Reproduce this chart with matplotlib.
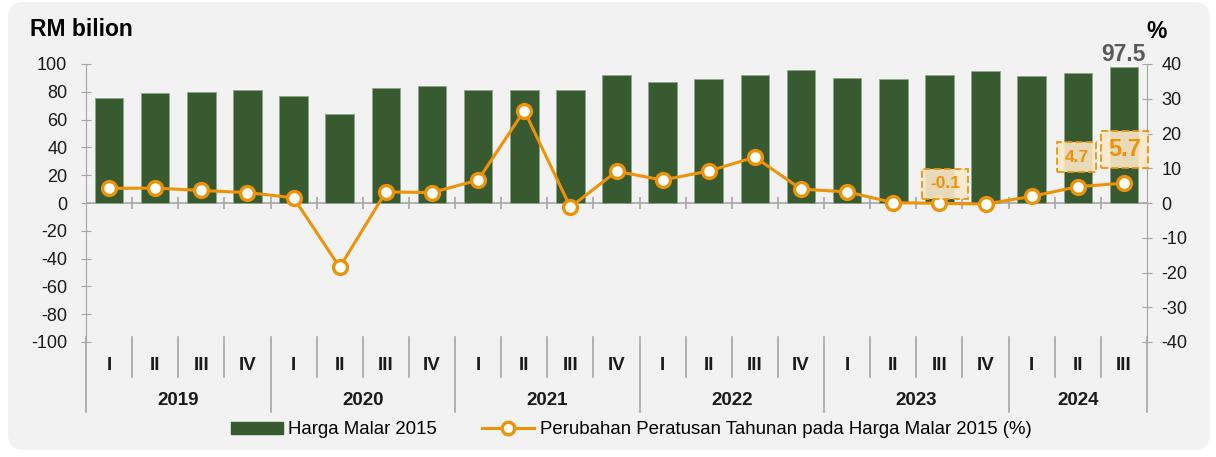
import numpy as np
import matplotlib
matplotlib.use("Agg")
import matplotlib.pyplot as plt
from matplotlib.patches import FancyBboxPatch
from matplotlib.transforms import IdentityTransform

plt.rcParams['font.family'] = ['Liberation Sans', 'DejaVu Sans']
plt.rcParams['axes.unicode_minus'] = False

# data
years = ['2019', '2020', '2021', '2022', '2023', '2024']
quarters = ['I', 'II', 'III', 'IV'] * 5 + ['I', 'II', 'III']
harga_malar = [75.6, 79.1, 80.1, 81.4, 76.8, 64.2, 82.5, 84.1,
               81.5, 81.5, 81.5, 92.0, 87.2, 88.9, 92.4, 95.7,
               90.0, 89.2, 92.3, 95.2, 91.6, 93.6, 97.5]
peratus = [4.2, 4.3, 3.6, 3.0, 1.5, -18.5, 3.2, 3.0,
           6.6, 26.6, -1.2, 9.1, 6.6, 9.2, 13.2, 4.0,
           3.2, 0.1, -0.1, -0.3, 1.9, 4.7, 5.7]

GREEN = '#375a31'
ORANGE = '#ee9308'
GREY = '#a6a6a6'

fig = plt.figure(figsize=(12.16, 4.57), dpi=100)
fig.patch.set_facecolor('white')
bg = FancyBboxPatch((8, 7), 1202, 448, boxstyle='round,pad=0,rounding_size=16',
                    transform=IdentityTransform(), facecolor='#f2f2f2',
                    edgecolor='none', zorder=-10)
fig.patches.append(bg)

ax = fig.add_axes([86/1216, 1 - 342/457, (1147 - 86)/1216, (342 - 64)/457])
ax.set_facecolor('none')
x = np.arange(len(harga_malar))
ax.bar(x, harga_malar, width=0.62, color=GREEN, edgecolor='#8fa58a', linewidth=0.6, zorder=2)
ax.set_xlim(-0.5, len(x) - 0.5)
ax.set_ylim(-100, 100)
ax.set_yticks(np.arange(-100, 101, 20))
ax.set_xticks([])
for s in ['top', 'bottom', 'right']:
    ax.spines[s].set_visible(False)
ax.spines['left'].set_color(GREY)
ax.tick_params(axis='y', direction='inout', length=7, color=GREY, labelsize=13,
               labelcolor='#1a1a1a', pad=10)

# zero line with small ticks
ax.axhline(0, color=GREY, linewidth=1.2, zorder=1)
ax.plot(x[:-1] + 0.5, np.zeros(len(x) - 1), linestyle='none', marker='|',
        markersize=8, color=GREY, markeredgewidth=1.2, zorder=1)

ax2 = ax.twinx()
ax2.set_ylim(-40, 40)
ax2.set_yticks(np.arange(-40, 41, 10))
for s in ['top', 'bottom', 'left']:
    ax2.spines[s].set_visible(False)
ax2.spines['right'].set_color(GREY)
ax2.tick_params(axis='y', direction='inout', length=7, color=GREY, labelsize=13,
                labelcolor='#1a1a1a', pad=7)
ax2.plot(x, peratus, color=ORANGE, linewidth=2.2, marker='o', markersize=10,
         markerfacecolor='white', markeredgecolor=ORANGE, markeredgewidth=2.4, zorder=5)

# category axis under the plot
trans = ax.get_xaxis_transform()
for i in range(len(x) + 1):
    b = i - 0.5
    if i == 0 or i == len(x) or i % 4 == 0:
        ax.plot([b, b], [0.018, -0.252], transform=trans, color=GREY, linewidth=1.2, clip_on=False)
    else:
        ax.plot([b, b], [0.018, -0.126], transform=trans, color=GREY, linewidth=1.2, clip_on=False)
for i, q in enumerate(quarters):
    ax.text(i, -0.083, q, transform=trans, ha='center', va='center',
            fontsize=13.5, fontweight='bold', color='#1a1a1a')
for k, yr in enumerate(years):
    n = min(4, len(x) - 4 * k)
    ax.text(4 * k + (n - 1) / 2, -0.209, yr, transform=trans, ha='center', va='center',
            fontsize=13.5, fontweight='bold', color='#1a1a1a')

# labels
fig.text(30/1216, 1 - 30/457, 'RM bilion', fontsize=16.5, fontweight='bold', va='center', ha='left')
fig.text(1157/1216, 1 - 31/457, '%', fontsize=16.5, fontweight='bold', va='center', ha='center')
ax.text(x[-1], harga_malar[-1] + 1, '97.5', ha='center', va='bottom', fontsize=16.5,
        fontweight='bold', color='#595959')

boxes = [(18, -0.1, 12.5, 0.12, 5.6, 0.45), (21, 4.7, 12.5, -0.03, 8.5, 0.45), (22, 5.7, 17, 0.02, 9.7, 0.3)]
for idx, val, fs, dx, dy, pad in boxes:
    ax2.text(x[idx] + dx, peratus[idx] + dy, f'{val}', ha='center', va='center',
             fontsize=fs, fontweight='bold', color=ORANGE, zorder=6,
             bbox=dict(boxstyle=f'square,pad={pad}', facecolor='#fde8c9', alpha=0.9,
                       edgecolor=ORANGE, linestyle='--', linewidth=1.4))

# legend
h1 = plt.Rectangle((0, 0), 1, 1, color=GREEN)
h2, = ax2.plot([], [], color=ORANGE, linewidth=2.2, marker='o', markersize=9,
               markerfacecolor='white', markeredgecolor=ORANGE, markeredgewidth=2.4)
fig.legend([h1, h2], ['Harga Malar 2015', 'Perubahan Peratusan Tahunan pada Harga Malar 2015 (%)'],
           loc='center', bbox_to_anchor=(631/1216, 1 - 430/457), ncol=2, frameon=False,
           fontsize=13.4, handlelength=2.8, handleheight=0.6, columnspacing=2.4, handletextpad=0.3)

fig.savefig('out.png', dpi=100, facecolor='white')
